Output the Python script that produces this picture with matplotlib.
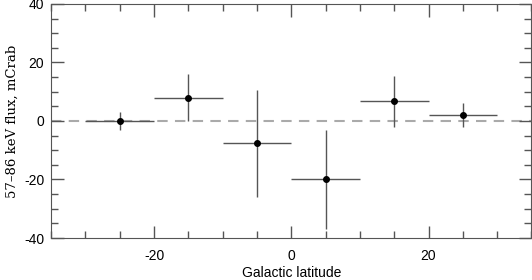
import matplotlib
matplotlib.use("Agg")
import matplotlib.pyplot as plt
from matplotlib.ticker import MultipleLocator

plt.rcParams['axes.unicode_minus'] = False

lat = [-25, -15, -5, 5, 15, 25]
lat_halfwidth = [5, 5, 5, 5, 5, 5]
flux = [0.0, 8.0, -7.7, -20.0, 6.8, 2.0]
flux_err = [3.0, 8.0, 18.2, 16.8, 8.7, 4.1]

fig = plt.figure(figsize=(5.32, 2.8), dpi=100)
ax = fig.add_axes([0.096, 0.15, 0.903, 0.836])

ax.axhline(0, color='#aaaaaa', lw=1.5, ls=(0, (5, 3.5)), zorder=1)
ax.errorbar(lat, flux, xerr=lat_halfwidth, yerr=flux_err, fmt='o', ms=4,
            color='black', ecolor='#555555', elinewidth=1, capsize=0, zorder=3)

ax.set_xlim(-35, 35)
ax.set_ylim(-40, 40)
ax.xaxis.set_major_locator(MultipleLocator(20))
ax.xaxis.set_minor_locator(MultipleLocator(5))
ax.yaxis.set_major_locator(MultipleLocator(20))
ax.yaxis.set_minor_locator(MultipleLocator(5))
ax.tick_params(which='both', direction='in', top=True, right=True, color='#555555',
               labelsize=10, labelfontfamily='Liberation Sans')
ax.tick_params(which='major', length=9, width=1)
ax.tick_params(which='minor', length=5, width=1)
ax.tick_params(axis='x', which='both', pad=8)
ax.tick_params(axis='y', which='both', pad=5)
for s in ax.spines.values():
    s.set_color('#555555')

ax.set_xlabel('Galactic latitude', fontsize=10, family='Liberation Sans', labelpad=2)
ax.set_ylabel('57\u201386 keV flux, mCrab', fontsize=9.5, family='DejaVu Serif', labelpad=4)

fig.savefig('out.png', dpi=100)
